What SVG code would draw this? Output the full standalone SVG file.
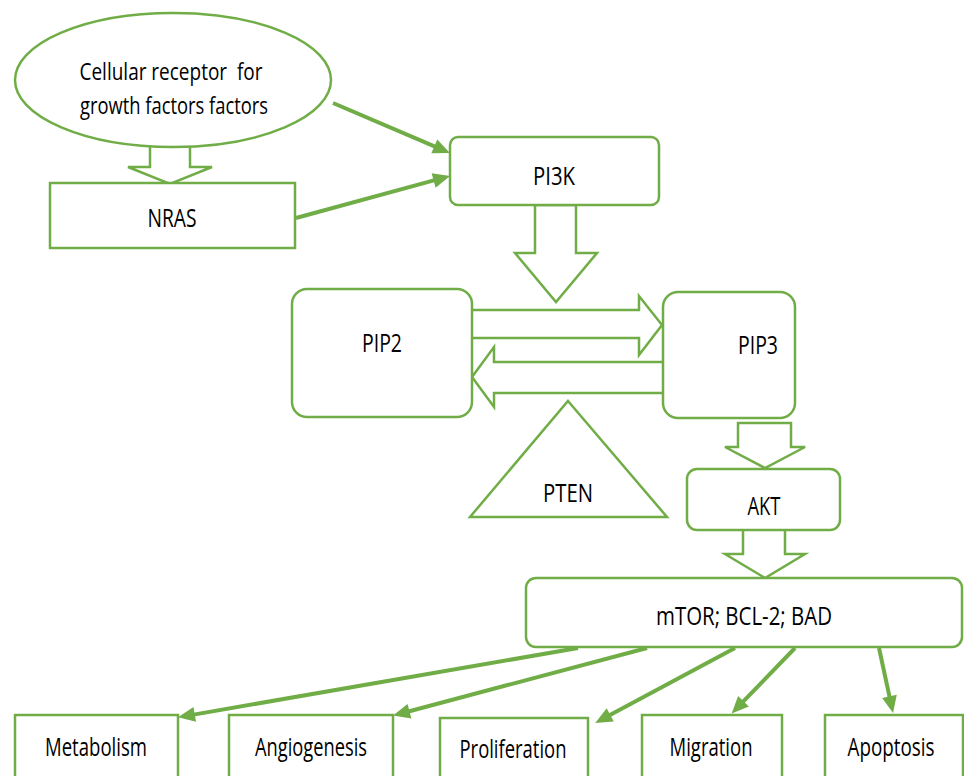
<svg xmlns="http://www.w3.org/2000/svg" width="964" height="776" viewBox="0 0 964 776">
<style>
.shape{fill:#ffffff;stroke:#70AD47;stroke-width:2.5}
.block{fill:#ffffff;stroke:#70AD47;stroke-width:2.5;stroke-linejoin:miter}
.line{stroke:#70AD47;stroke-width:4;fill:none;marker-end:url(#ah)}
text{font-family:"Open Sans","Liberation Sans",sans-serif;font-size:25px;fill:#000000;text-anchor:middle;white-space:pre}
.small{font-size:23px}
</style>
<defs>
<marker id="ah" markerUnits="userSpaceOnUse" markerWidth="18" markerHeight="16" refX="4" refY="7.5" orient="auto" overflow="visible">
<path d="M0,0 L17,7.5 L0,15 z" fill="#70AD47"/>
</marker>
</defs>
<rect width="964" height="776" fill="#ffffff"/>
<g id="connectors">
<polygon class="block" points="150,138 150,167 128,167 170,184 212,167 190,167 190,138"/>
<line class="line" x1="333" y1="103" x2="438" y2="147.9"/>
<line class="line" x1="296" y1="218" x2="437.5" y2="179.4"/>
<polygon class="block" points="535,205 535,253 515,253 556,302 597,253 576,253 576,205"/>
<polygon class="block" points="470,310 639,310 639,296 662,325 639,355 639,338 470,338"/>
<polygon class="block" points="665,362 494,362 494,347 472,377 494,407 494,393 665,393"/>
<polygon class="block" points="738,423 738,447 725,447 765,468 805,447 791,447 791,423"/>
<polygon class="block" points="743,528 743,554 725,554 765,578 805,554 785,554 785,528"/>
<line class="line" x1="578" y1="648" x2="190.8" y2="715.1"/>
<line class="line" x1="647" y1="648" x2="405.6" y2="712.2"/>
<line class="line" x1="735" y1="648" x2="606.7" y2="716.8"/>
<line class="line" x1="795" y1="648" x2="740.7" y2="704.1"/>
<line class="line" x1="879" y1="648" x2="890.3" y2="700.3"/>
</g>
<g id="receptor">
<ellipse class="shape" cx="173" cy="80" rx="158" ry="67"/>
<text class="small" x="171" y="80" textLength="183" lengthAdjust="spacingAndGlyphs">Cellular receptor  for</text>
<text class="small" x="174" y="114" textLength="188" lengthAdjust="spacingAndGlyphs">growth factors factors</text>
</g>
<g id="nras">
<rect class="shape" x="50" y="183" width="245" height="65"/>
<text x="172" y="227" textLength="49" lengthAdjust="spacingAndGlyphs">NRAS</text>
</g>
<g id="pi3k">
<rect class="shape" x="450" y="137" width="209" height="68" rx="8"/>
<text x="554" y="185" textLength="42" lengthAdjust="spacingAndGlyphs">PI3K</text>
</g>
<g id="pip2">
<rect class="shape" x="292" y="289" width="180" height="128" rx="15"/>
<text x="382" y="352" textLength="40" lengthAdjust="spacingAndGlyphs">PIP2</text>
</g>
<g id="pip3">
<rect class="shape" x="663" y="292" width="132" height="126" rx="15"/>
<text x="758" y="354" textLength="40" lengthAdjust="spacingAndGlyphs">PIP3</text>
</g>
<g id="pten">
<polygon class="shape" points="568,401 667,517 470,517"/>
<text x="568" y="502" textLength="50" lengthAdjust="spacingAndGlyphs">PTEN</text>
</g>
<g id="akt">
<rect class="shape" x="687" y="469" width="153" height="61" rx="10"/>
<text x="764" y="515" textLength="33" lengthAdjust="spacingAndGlyphs">AKT</text>
</g>
<g id="mtor">
<rect class="shape" x="526" y="578" width="436" height="69" rx="10"/>
<text x="744" y="625" textLength="176" lengthAdjust="spacingAndGlyphs">mTOR; BCL-2; BAD</text>
</g>
<g id="metabolism">
<rect class="shape" x="15" y="715" width="163" height="80"/>
<text x="96" y="756" textLength="102" lengthAdjust="spacingAndGlyphs">Metabolism</text>
</g>
<g id="angiogenesis">
<rect class="shape" x="229" y="715" width="164" height="80"/>
<text x="311" y="756" textLength="112" lengthAdjust="spacingAndGlyphs">Angiogenesis</text>
</g>
<g id="proliferation">
<rect class="shape" x="440" y="718" width="148" height="80"/>
<text x="513" y="758" textLength="107" lengthAdjust="spacingAndGlyphs">Proliferation</text>
</g>
<g id="migration">
<rect class="shape" x="642" y="715" width="140" height="80"/>
<text x="711" y="756" textLength="83" lengthAdjust="spacingAndGlyphs">Migration</text>
</g>
<g id="apoptosis">
<rect class="shape" x="825" y="715" width="138" height="80"/>
<text x="891" y="756" textLength="87" lengthAdjust="spacingAndGlyphs">Apoptosis</text>
</g>
</svg>
